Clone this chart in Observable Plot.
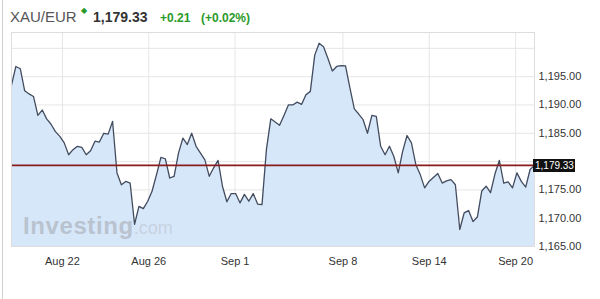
<!DOCTYPE html>
<html>
<head>
<meta charset="utf-8">
<script src="https://cdn.jsdelivr.net/npm/d3@7"></script>
<script src="https://cdn.jsdelivr.net/npm/@observablehq/plot@0.6"></script>
<style>
  html, body { margin: 0; padding: 0; background: #fff; }
  body { width: 600px; height: 299px; position: relative; overflow: hidden; font-family: "Liberation Sans", Arial, sans-serif; }
  .hd { position: absolute; line-height: 1; white-space: nowrap; }
  #border { position: absolute; left: 2px; top: 0; width: 1px; height: 299px; background: #cfcfcf; }
  #chart { position: absolute; left: 0; top: 30px; }
  #pricebox { position: absolute; left: 533px; width: 42px; height: 13px; background: #111; color: #fff;
    font-size: 10px; line-height: 13px; padding-left: 2px; box-sizing: border-box; white-space: nowrap; }
</style>
</head>
<body>
<div id="border"></div>
<div class="hd" style="left:10px; top:9px; font-size:15px; color:#555;">XAU/EUR</div>
<div class="hd" style="left:81px; top:7px; font-size:8px; color:#2a9a2a;">◆</div>
<div class="hd" style="left:93px; top:10px; font-size:14px; font-weight:bold; color:#333;">1,179.33</div>
<div class="hd" style="left:160px; top:12px; font-size:12px; font-weight:bold; color:#2a9a2a;">+0.21</div>
<div class="hd" style="left:201px; top:12px; font-size:12px; font-weight:bold; color:#2a9a2a;">(+0.02%)</div>
<div id="chart"></div>
<div id="pricebox"></div>
<script>
// Price series (XAU/EUR), evenly spaced samples
const prices = [
  1193.5, 1196.8, 1196.4, 1192.5, 1191.95, 1191.5, 1188.15, 1189.1, 1187.55, 1186.6,
  1185.3, 1184.45, 1183.3, 1181.2, 1182.1, 1182.7, 1182.5, 1181.2, 1181.9, 1183.6,
  1183.45, 1185.0, 1184.85, 1187.1, 1178.0, 1175.9, 1176.5, 1176.2, 1168.9, 1172.1,
  1171.7, 1173.0, 1174.8, 1177.7, 1180.75, 1180.5, 1177.1, 1177.4, 1181.5, 1184.15,
  1183.0, 1185.0, 1182.7, 1181.5, 1180.3, 1177.4, 1178.9, 1180.2, 1175.65, 1172.9,
  1174.35, 1174.35, 1172.7, 1174.2, 1173.0, 1174.35, 1172.5, 1172.4, 1182.1, 1187.55,
  1187.0, 1186.4, 1188.15, 1190.0, 1190.0, 1190.5, 1190.1, 1191.8, 1192.4, 1198.8,
  1200.9, 1200.3, 1198.2, 1196.0, 1196.8, 1196.95, 1196.9, 1193.0, 1189.3, 1188.4,
  1187.4, 1185.0, 1188.15, 1188.0, 1182.7, 1181.2, 1182.7, 1180.9, 1178.0, 1181.8,
  1184.6, 1183.3, 1179.45, 1177.7, 1175.35, 1176.5, 1177.2, 1177.9, 1176.2, 1176.6,
  1176.8, 1175.9, 1168.0, 1170.95, 1171.35, 1169.4, 1170.2, 1174.8, 1175.65, 1174.5,
  1177.8, 1180.2, 1176.2, 1176.4, 1175.35, 1178.0, 1176.5, 1175.5, 1178.6, 1179.33
];
// trading-day position of the first sample and samples per trading day
const firstDay = -2.36;
const samplesPerDay = 4.91;

// x-axis ticks (trading day index) and labels
const tickDays = [0, 4, 8, 13, 17, 21];
const tickLabels = ["Aug 22", "Aug 26", "Sep 1", "Sep 8", "Sep 14", "Sep 20"];

// y-axis
const yDomain = [1165, 1202.8];
const yTicks = [1165, 1170, 1175, 1185, 1190, 1195];
const yGrid = [1165, 1170, 1175, 1180, 1185, 1190, 1195, 1200];
const lastPrice = 1179.33;

const data = prices.map((p, i) => ({day: firstDay + i / samplesPerDay, price: p}));
const xDomain = [firstDay, firstDay + (prices.length - 1) / samplesPerDay];
const fmt = d3.format(",.2f");

const watermark = (index, scales, values, dims) => {
  const g = d3.create("svg:g");
  const t = g.append("text").attr("text-anchor", "start")
    .attr("x", dims.marginLeft + 12).attr("y", dims.height - dims.marginBottom - 12);
  t.append("tspan").attr("font-size", 24).attr("font-weight", "bold").attr("fill", "#b9c3cf").attr("letter-spacing", 0.6).text("Investing");
  t.append("tspan").attr("font-size", 18).attr("fill", "#c6d2e0").text(".com");
  return g.node();
};

const chart = Plot.plot({
  width: 600,
  height: 267,
  marginTop: 2,
  marginLeft: 11,
  marginRight: 66,
  marginBottom: 51,
  style: {fontFamily: "Liberation Sans, Arial, sans-serif", fontSize: "11px", color: "#333", background: "transparent"},
  x: {domain: xDomain, ticks: tickDays, tickFormat: d => tickLabels[tickDays.indexOf(d)], tickSize: 0, tickPadding: 11, label: null},
  y: {domain: yDomain, ticks: yTicks, tickFormat: fmt, tickSize: 0, tickPadding: 4, axis: "right", label: null},
  marks: [
    Plot.ruleY(yGrid, {stroke: "#e6e6e6"}),
    Plot.ruleX(tickDays, {stroke: "#e6e6e6"}),
    Plot.areaY(data, {x: "day", y1: () => yDomain[0], y2: "price", fill: "#d7e7fa"}),
    watermark,
    Plot.line(data, {x: "day", y: "price", stroke: "#434c5e", strokeWidth: 1.3}),
    Plot.ruleY([lastPrice], {stroke: "#8a1c1c", strokeWidth: 1.6}),
    Plot.frame({stroke: "#dddddd"})
  ]
});
document.getElementById("chart").appendChild(chart);

// last-price label box, positioned with the chart's own y scale
const yPix = chart.scale("y").apply(lastPrice);
const box = document.getElementById("pricebox");
box.textContent = fmt(lastPrice);
box.style.top = (30 + yPix - 6) + "px";
</script>
</body>
</html>
